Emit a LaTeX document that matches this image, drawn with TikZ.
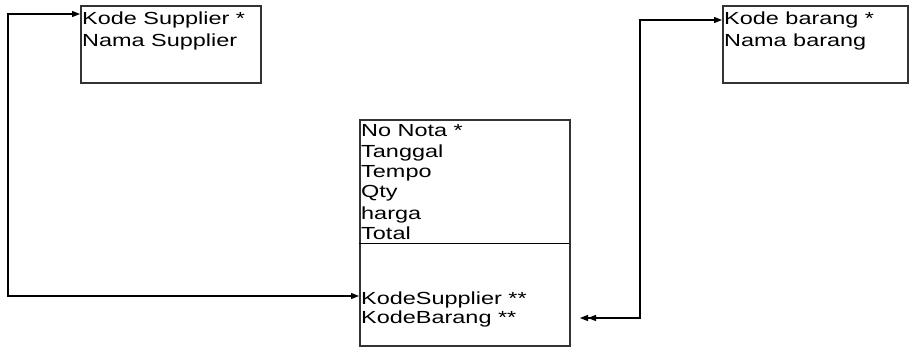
\documentclass[tikz,border=0pt]{standalone}
\usepackage{fontspec}
\setmainfont{Liberation Sans}
\usetikzlibrary{arrows.meta}
\newcommand{\wtxt}[1]{\scalebox{1.34}[1]{#1}}
\tikzset{
  box/.style={draw=black!80, line width=1.6pt, anchor=north west, inner sep=0pt},
  lbl/.style={anchor=base west, inner sep=0pt, font=\fontsize{17.5}{21}\selectfont},
  conn/.style={draw=black, line width=1.2pt},
  tip/.style={Triangle[length=8pt,width=6pt]}
}
\begin{document}
\begin{tikzpicture}[x=1pt,y=-1pt]
\useasboundingbox[fill=white] (0,0) rectangle (909,347);
% boxes
\node[box, minimum width=180pt, minimum height=77pt] (sup) at (80,5) {};
\node[box, minimum width=185pt, minimum height=77pt] (brg) at (722,5) {};
\node[box, minimum width=210pt, minimum height=226pt] (nota) at (359,119) {};
\coordinate (divL) at (359,243);
\coordinate (divR) at (569,243);
\draw[black, line width=1pt] (divL) -- (divR);
% texts
\node[lbl] (t1) at (82,25) {\wtxt{Kode Supplier *}};
\node[lbl] (t2) at (82,47) {\wtxt{Nama Supplier}};
\node[lbl] (t3) at (724,25) {\wtxt{Kode barang *}};
\node[lbl] (t4) at (724,47) {\wtxt{Nama barang}};
\node[lbl] (n1) at (361,137) {\wtxt{No Nota *}};
\node[lbl] (n2) at (361,158) {\wtxt{Tanggal}};
\node[lbl] (n3) at (361,178) {\wtxt{Tempo}};
\node[lbl] (n4) at (361,198) {\wtxt{Qty}};
\node[lbl] (n5) at (361,219) {\wtxt{harga}};
\node[lbl] (n6) at (361,240) {\wtxt{Total}};
\node[lbl] (ks) at (361,304) {\wtxt{KodeSupplier **}};
\node[lbl] (kb) at (361,323) {\wtxt{KodeBarang **}};
% connectors
\coordinate (supIn) at (80,14);
\coordinate (ksIn) at (359,296);
\coordinate (brgIn) at (722,20);
\coordinate (kbOut) at (580,318);
\draw[conn, {Triangle[length=8pt,width=6pt]}-{Triangle[length=8pt,width=6pt]}]
  (ksIn) -- (8,296) -- (8,14) -- (supIn);
\draw[conn, {Triangle[length=8pt,width=6pt]Triangle[length=8pt,width=6pt]}-{Triangle[length=8pt,width=6pt]}]
  (kbOut) -- (640,318) -- (640,20) -- (brgIn);
\end{tikzpicture}
\end{document}
